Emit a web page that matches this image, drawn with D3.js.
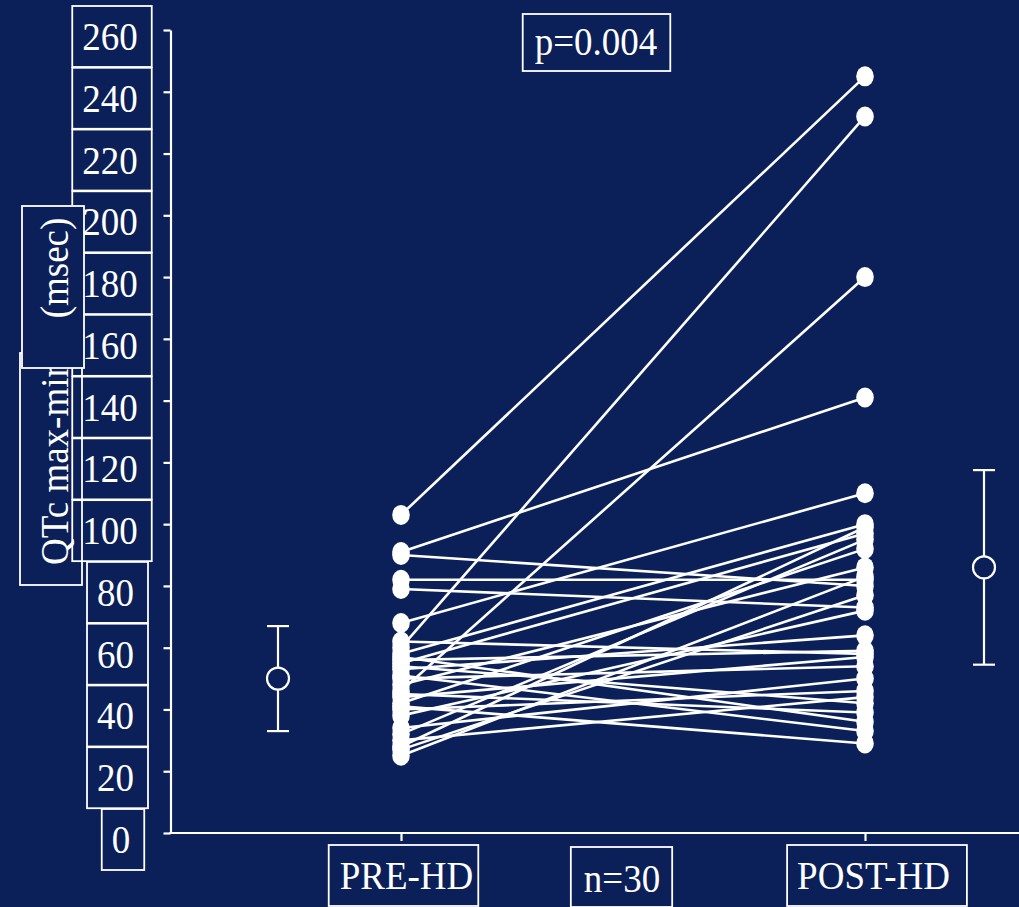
<!DOCTYPE html>
<html>
<head>
<meta charset="utf-8">
<script src="https://cdn.jsdelivr.net/npm/d3@7"></script>
<style>
  html, body { margin: 0; padding: 0; background: #0b1f58; }
  svg { display: block; }
  text { font-family: "Liberation Serif", "Times New Roman", serif; fill: #ffffff; }
</style>
</head>
<body>
<svg id="chart" width="1019" height="907"></svg>
<script>
// Paired QTc dispersion values (msec), one entry per patient, same order in both arrays
const categories = ["PRE-HD", "POST-HD"];
const preHD  = [103, 60, 46, 91, 68, 90, 82, 79,
                62, 58, 57, 56, 55, 54, 53, 51, 50, 48, 45, 44, 42, 41, 40, 38, 34, 32, 30, 28, 27, 25];
const postHD = [245, 232, 180, 141, 110, 80, 82, 73,
                58, 100, 36, 59, 97, 42, 64, 33, 54, 86, 39, 57, 92, 29, 46, 72, 50, 95, 44, 99, 77, 83];
// Group summaries (mean and error bar half-length)
const summaryMean = [50, 86];
const summaryErr = [17, 31.5];
// Axis tick values and annotation texts
const yTicks = [0, 20, 40, 60, 80, 100, 120, 140, 160, 180, 200, 220, 240, 260];
const yTitleParts = ["QTc max-min", "(msec)"];
const pValueText = "p=0.004";
const nText = "n=30";

const W = 1019, H = 907;
const BG = "#0b1f58";
const FG = "#ffffff";
const FONT = 40;     // glyph size
const SQUEEZE = 0.925; // slight horizontal condensing of the serif face

const svg = d3.select("#chart");
svg.append("rect").attr("width", W).attr("height", H).attr("fill", BG);

const y = d3.scaleLinear().domain([0, 260]).range([833, 30]);
const x = d3.scalePoint().domain(categories).range([401, 865]);
const axisX0 = 170.5;

// Y axis with ticks on the left
const yAxisG = svg.append("g")
  .attr("transform", `translate(${axisX0},0)`)
  .call(d3.axisLeft(y).tickValues(yTicks).tickSize(7).tickSizeOuter(0).tickFormat(""));
yAxisG.selectAll("path, line").attr("stroke", FG).attr("stroke-width", 2.2);

// X axis baseline across the full width, with category ticks
svg.append("line")
  .attr("x1", axisX0 - 1).attr("x2", W)
  .attr("y1", y(0)).attr("y2", y(0))
  .attr("stroke", FG).attr("stroke-width", 2.2);
const xAxisG = svg.append("g")
  .attr("transform", `translate(0,${y(0)})`)
  .call(d3.axisBottom(x).tickSize(8).tickSizeOuter(0).tickFormat(""));
xAxisG.select(".domain").remove();
xAxisG.selectAll("line").attr("stroke", FG).attr("stroke-width", 2.2);

// Boxed text helper: draws condensed text then a rectangle around its bounding box
function boxedText(g, str, tx, ty, opts) {
  const t = g.append("text")
    .attr("transform", `translate(${tx},${ty}) scale(${SQUEEZE},1)`)
    .attr("text-anchor", opts.anchor || "middle")
    .attr("font-size", FONT)
    .text(str);
  const bb = t.node().getBBox();
  const x0 = tx + bb.x * SQUEEZE - opts.padL;
  const x1 = tx + (bb.x + bb.width) * SQUEEZE + opts.padR;
  g.insert("rect", "text")
    .attr("x", x0).attr("y", opts.top)
    .attr("width", x1 - x0).attr("height", opts.bottom - opts.top)
    .attr("fill", opts.fill || "none")
    .attr("stroke", FG).attr("stroke-width", 1.8);
  return t;
}

// Y tick labels in boxes
const tickG = svg.append("g");
yTicks.forEach(v => {
  const s = String(v);
  const cx = 110 + (3 - s.length) * 5.5;
  const g = tickG.append("g");
  boxedText(g, s, cx, y(v) + 20, { padL: 10, padR: 14, top: y(v) - 24, bottom: y(v) + 37 });
});

// Y title, rotated, in two boxes
const titleG = svg.append("g");
function rotatedBox(str, cy, box) {
  const g = titleG.append("g");
  g.append("rect")
    .attr("x", box.x0).attr("y", box.y0)
    .attr("width", box.x1 - box.x0).attr("height", box.y1 - box.y0)
    .attr("fill", box.fill || "none")
    .attr("stroke", FG).attr("stroke-width", 1.8);
  g.append("text")
    .attr("transform", `translate(68,${cy}) rotate(-90) scale(${SQUEEZE},1)`)
    .attr("text-anchor", "middle")
    .attr("font-size", FONT)
    .text(str);
}
rotatedBox(yTitleParts[0], 462, { x0: 20, x1: 82, y0: 353, y1: 585 });
rotatedBox(yTitleParts[1], 268, { x0: 22, x1: 84, y0: 206, y1: 368, fill: BG });

// Category labels and sample size under the x axis
const catG = svg.append("g");
boxedText(catG, categories[0], x(categories[0]) + 5.5, 889, { padL: 11, padR: 5, top: 845, bottom: 906 });
boxedText(catG, categories[1], x(categories[1]) + 8.5, 889, { padL: 10, padR: 17, top: 845, bottom: 906 });
boxedText(catG, nText, (x(categories[0]) + x(categories[1])) / 2 - 11, 892, { padL: 13, padR: 12, top: 847, bottom: 907 });

// p-value annotation
boxedText(svg.append("g"), pValueText, 596, 55, { padL: 12, padR: 13, top: 14, bottom: 71 });

// Paired lines
const pairs = preHD.map((v, i) => ({ pre: v, post: postHD[i] }));
svg.append("g").selectAll("line")
  .data(pairs).join("line")
  .attr("x1", x(categories[0])).attr("y1", d => y(d.pre))
  .attr("x2", x(categories[1])).attr("y2", d => y(d.post))
  .attr("stroke", FG).attr("stroke-width", 2.6);

// Individual points
const dotG = svg.append("g").attr("fill", FG);
dotG.selectAll("ellipse.pre").data(preHD).join("ellipse")
  .attr("class", "pre")
  .attr("cx", x(categories[0])).attr("cy", d => y(d)).attr("rx", 8.8).attr("ry", 10);
dotG.selectAll("ellipse.post").data(postHD).join("ellipse")
  .attr("class", "post")
  .attr("cx", x(categories[1])).attr("cy", d => y(d)).attr("rx", 8.8).attr("ry", 10);

// Group mean with error bars, offset beside each column
const sumOffset = [-123, 119];
const sumG = svg.append("g");
categories.forEach((c, i) => {
  const sx = x(c) + sumOffset[i];
  const m = summaryMean[i], e = summaryErr[i];
  const g = sumG.append("g").attr("stroke", FG).attr("stroke-width", 2.2);
  g.append("line").attr("x1", sx).attr("x2", sx).attr("y1", y(m + e)).attr("y2", y(m - e));
  [m + e, m - e].forEach(v => {
    g.append("line").attr("x1", sx - 11).attr("x2", sx + 11).attr("y1", y(v)).attr("y2", y(v));
  });
  g.append("circle").attr("cx", sx).attr("cy", y(m)).attr("r", 11).attr("fill", BG);
});
</script>
</body>
</html>
